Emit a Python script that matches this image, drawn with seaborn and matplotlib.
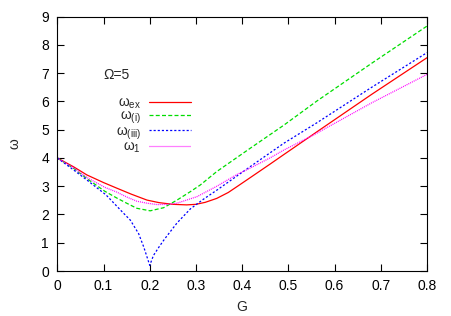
import matplotlib
matplotlib.use("Agg")
import matplotlib.pyplot as plt
import seaborn as sns

# values
g_ex = [0, 0.035, 0.064, 0.1, 0.129, 0.16, 0.194, 0.22, 0.25, 0.28, 0.30, 0.32,
        0.345, 0.37, 0.39, 0.417, 0.46, 0.49, 0.562, 0.68, 0.8]
w_ex = [4.0, 3.69, 3.40, 3.13, 2.93, 2.72, 2.51, 2.42, 2.36, 2.34, 2.36, 2.43,
        2.57, 2.78, 3.00, 3.30, 3.78, 4.12, 4.93, 6.25, 7.55]

g_i = [0, 0.035, 0.064, 0.103, 0.129, 0.15, 0.172, 0.201, 0.23, 0.259, 0.288,
       0.309, 0.345, 0.417, 0.49, 0.562, 0.68, 0.8]
w_i = [4.0, 3.64, 3.27, 2.82, 2.58, 2.40, 2.22, 2.13, 2.24, 2.51, 2.81,
       3.04, 3.52, 4.34, 5.16, 6.02, 7.35, 8.67]

g_iii = [0, 0.035, 0.064, 0.105, 0.143, 0.158, 0.176, 0.187, 0.197, 0.2, 0.208,
         0.22, 0.232, 0.259, 0.288, 0.317, 0.345, 0.417, 0.49, 0.562, 0.68, 0.8]
w_iii = [4.0, 3.58, 3.22, 2.70, 2.05, 1.80, 1.32, 0.85, 0.35, 0.2, 0.55,
         0.85, 1.13, 1.70, 2.20, 2.55, 2.86, 3.69, 4.52, 5.25, 6.50, 7.73]

g_1 = [0, 0.035, 0.064, 0.103, 0.129, 0.15, 0.172, 0.194, 0.216, 0.241, 0.259,
       0.302, 0.345, 0.389, 0.417, 0.46, 0.49, 0.554, 0.68, 0.8]
w_1 = [4.0, 3.66, 3.31, 2.96, 2.79, 2.62, 2.47, 2.40, 2.35, 2.36, 2.40,
       2.63, 3.00, 3.42, 3.64, 4.00, 4.28, 4.81, 5.95, 6.96]

x_ticks = [0, 0.1, 0.2, 0.3, 0.4, 0.5, 0.6, 0.7, 0.8]
x_tick_labels = ["0", "0.1", "0.2", "0.3", "0.4", "0.5", "0.6", "0.7", "0.8"]
y_ticks = [0, 1, 2, 3, 4, 5, 6, 7, 8, 9]
labels = [r"$\omega_{\rm ex}$", r"$\omega_{\rm (i)}$", r"$\omega_{\rm (iii)}$", r"$\omega_{\rm 1}$"]

sns.set_style("ticks")
plt.rcParams["font.family"] = ["Liberation Sans", "DejaVu Sans"]
plt.rcParams["font.size"] = 10
plt.rcParams["mathtext.fontset"] = "custom"
plt.rcParams["mathtext.rm"] = "Liberation Sans"
plt.rcParams["mathtext.it"] = "Liberation Sans"
plt.rcParams["mathtext.sf"] = "Liberation Sans"

fig = plt.figure(figsize=(4.52, 3.16), dpi=100)
ax = fig.add_axes([0.1268, 0.1424, 0.818, 0.8047])

sns.lineplot(x=g_ex, y=w_ex, ax=ax, color="#ff0000", lw=0.9, label=labels[0])
sns.lineplot(x=g_i, y=w_i, ax=ax, color="#00dd00", lw=0.9, label=labels[1],
             linestyle=(0, (3.2, 1.8)))
sns.lineplot(x=g_iii, y=w_iii, ax=ax, color="#0000ff", lw=0.9, label=labels[2],
             linestyle=(0, (1.7, 1.6)))
sns.lineplot(x=g_1, y=w_1, ax=ax, color="#ff00ff", lw=0.9, label=labels[3],
             linestyle=(0, (0.8, 0.8)))

ax.set_xlim(0, 0.8)
ax.set_ylim(0, 9)
ax.set_xticks(x_ticks)
ax.set_xticklabels(x_tick_labels)
ax.set_yticks(y_ticks)
ax.tick_params(direction="in", length=5, width=0.8, top=True, right=True,
               labelsize=10, pad=6, colors="black")
for s in ax.spines.values():
    s.set_linewidth(0.8)
    s.set_color("black")

ax.set_xlabel("G", fontsize=10, labelpad=5)
ax.set_ylabel("\u03c9", fontsize=10, labelpad=14)

ax.text(0.124, 0.771, "\u03a9=5", transform=ax.transAxes, fontsize=10,
        va="center", ha="left")

h, l = ax.get_legend_handles_labels()
ax.legend(h, l, loc="upper right", bbox_to_anchor=(0.362, 0.69), frameon=False,
          markerfirst=False, handlelength=3.0, handletextpad=0.6,
          labelspacing=-0.15, borderpad=0, borderaxespad=0, fontsize=10)

fig.savefig("out.png", dpi=100)
